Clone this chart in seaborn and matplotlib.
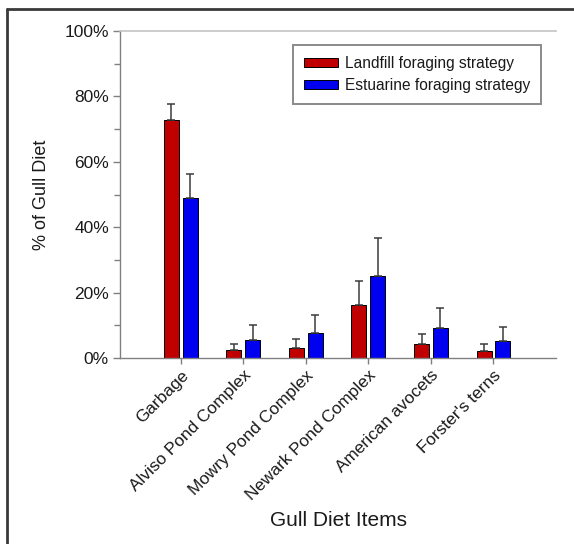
import matplotlib
matplotlib.use("Agg")
import matplotlib.pyplot as plt
from matplotlib.lines import Line2D
from matplotlib.ticker import MultipleLocator, FuncFormatter
import numpy as np
import pandas as pd
import seaborn as sns

# Diet items and the two foraging strategies (percent of gull diet)
items = ["Garbage", "Alviso Pond Complex", "Mowry Pond Complex",
         "Newark Pond Complex", "American avocets", "Forster's terns"]
strategies = ["Landfill foraging strategy", "Estuarine foraging strategy"]
landfill_mean = [72.8, 2.5, 3.2, 16.3, 4.4, 2.2]
landfill_err = [4.8, 1.9, 2.6, 7.4, 3.0, 2.1]
estuarine_mean = [48.9, 5.6, 7.6, 25.1, 9.2, 5.3]
estuarine_err = [7.3, 4.6, 5.6, 11.6, 6.1, 4.1]
bar_colors = ["#C00000", "#0000F0"]

df = pd.DataFrame({
    "item": items * 2,
    "strategy": [strategies[0]] * len(items) + [strategies[1]] * len(items),
    "pct": landfill_mean + estuarine_mean,
})

sns.set_style("ticks")
plt.rcParams["font.family"] = ["Liberation Sans", "DejaVu Sans"]

fig = plt.figure(figsize=(5.74, 5.44), dpi=100)
ax = fig.add_axes([120 / 574, 1 - 358 / 544, 436 / 574, 327 / 544])

sns.barplot(data=df, x="item", y="pct", hue="strategy", order=items,
            hue_order=strategies, palette=bar_colors, width=0.6, gap=0.2,
            errorbar=None, edgecolor="black", linewidth=0.7, saturation=1,
            ax=ax)

# one-sided (upper) error bars placed on the drawn bars
for cont, errs in zip(ax.containers, [landfill_err, estuarine_err]):
    xs = [b.get_x() + b.get_width() / 2 for b in cont]
    ys = [b.get_height() for b in cont]
    ax.errorbar(xs, ys, yerr=[np.zeros(len(errs)), errs], fmt="none",
                ecolor="#3c3c3c", elinewidth=1.1, capsize=3.2, capthick=1.1,
                zorder=1)

ax.set_xlim(-0.97, 6.0)
ax.set_ylim(0, 100)
ax.yaxis.set_major_locator(MultipleLocator(20))
ax.yaxis.set_minor_locator(MultipleLocator(10))
ax.yaxis.set_major_formatter(FuncFormatter(lambda v, p: f"{v:.0f}%"))

spine_col = "#808080"
for s in ["left", "bottom"]:
    ax.spines[s].set_color(spine_col)
    ax.spines[s].set_linewidth(1.0)
ax.spines["top"].set_color("#c4c4c4")
ax.spines["top"].set_linewidth(1.2)
ax.spines["right"].set_visible(False)

ax.tick_params(axis="y", which="major", length=5, width=1, color=spine_col,
               labelsize=12.5, labelcolor="#1a1a1a", pad=3)
ax.tick_params(axis="y", which="minor", length=4, width=1, color=spine_col)
ax.tick_params(axis="x", length=4, width=1, color=spine_col, labelsize=12.4,
               labelcolor="#1a1a1a", pad=3)
plt.setp(ax.get_xticklabels(), rotation=45, ha="right",
         rotation_mode="anchor")

ax.set_ylabel("% of Gull Diet", fontsize=13, color="#1a1a1a", labelpad=10)
ax.set_xlabel("Gull Diet Items", fontsize=15, color="#1a1a1a", labelpad=6)

handles, labels = ax.get_legend_handles_labels()
ax.legend(handles, labels, loc="upper right",
          bbox_to_anchor=(1 - 15 / 436, 1 - 14 / 327), borderaxespad=0,
          fontsize=11.2, frameon=True, fancybox=False, edgecolor="#8a8a8a",
          framealpha=1, handlelength=2.2, handleheight=0.55,
          handletextpad=0.45, labelspacing=0.45, borderpad=0.7)
ax.get_legend().get_frame().set_linewidth(1.4)
for t in ax.get_legend().get_texts():
    t.set_color("#1a1a1a")

# figure frame lines along the top and left edges
fig.add_artist(Line2D([7 / 574, 1.0], [1 - 9 / 544, 1 - 9 / 544],
                      transform=fig.transFigure, color="#3a3a3a", lw=2))
fig.add_artist(Line2D([7 / 574, 7 / 574], [0.0, 1 - 9 / 544],
                      transform=fig.transFigure, color="#3a3a3a", lw=2))

fig.savefig("out.png", dpi=100, facecolor="white")
